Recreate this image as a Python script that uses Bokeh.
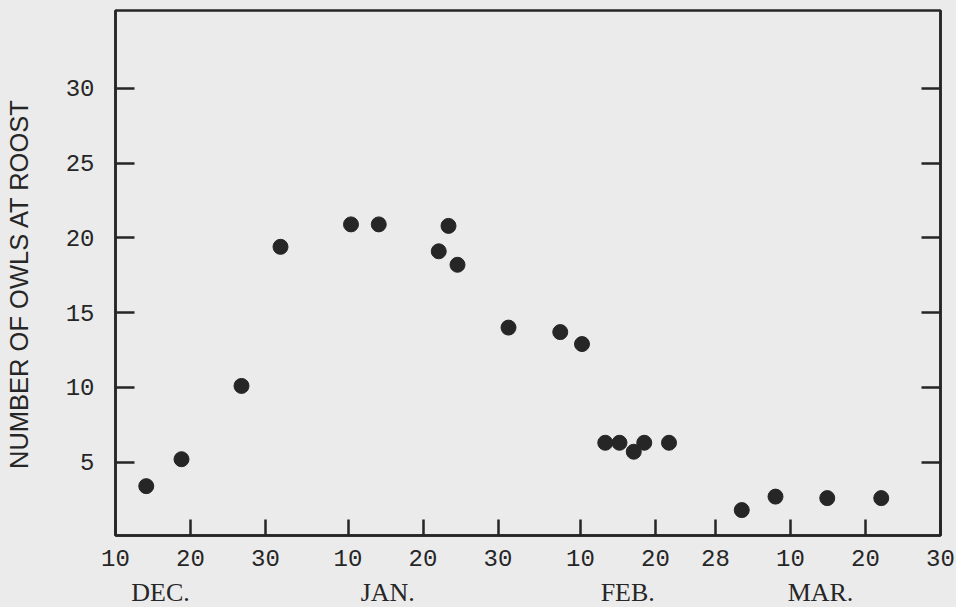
from bokeh.plotting import figure
from bokeh.models import LinearAxis, FixedTicker, Range1d
from bokeh.layouts import column
from bokeh.core.properties import value
from bokeh.embed import file_html
from bokeh.resources import INLINE

# Observation days, counted as days since 10 December
obs_day = [4.1, 8.8, 16.8, 22.0, 31.4, 35.1, 43.1, 44.4, 45.6, 52.4, 59.3, 62.2,
           65.3, 67.2, 69.1, 70.5, 73.8, 83.5, 88.0, 94.9, 102.1]
# Number of owls at roost
owls = [3.4, 5.2, 10.1, 19.4, 20.9, 20.9, 19.1, 20.8, 18.2, 14.0, 13.7, 12.9,
        6.3, 6.3, 5.7, 6.3, 6.3, 1.8, 2.7, 2.6, 2.6]

# x-axis ticks (days since 10 Dec) and their day-of-month labels
x_ticks = [0, 10, 20, 31, 41, 51, 62, 72, 80, 90, 100, 110]
x_tick_labels = ["10", "20", "30", "10", "20", "30", "10", "20", "28", "10", "20", "30"]
# month labels and their positions (days since 10 Dec)
month_pos = [6.0, 36.3, 68.3, 94.0]
month_names = ["DEC.", "JAN.", "FEB.", "MAR."]
y_ticks = [5, 10, 15, 20, 25, 30]

BG = "#ebebeb"
INK = "#262626"
NBSP = "\u00a0"

p = figure(width=956, height=577, output_backend="svg", toolbar_location=None,
           x_range=Range1d(0, 110), y_range=Range1d(0.1, 35.2),
           min_border_left=115, min_border_right=16, min_border_top=10,
           min_border_bottom=42)
p.background_fill_color = BG
p.border_fill_color = BG
p.grid.visible = False
p.outline_line_color = INK
p.outline_line_width = 2.5

p.scatter(obs_day, owls, size=15, color=INK)

# bottom axis (day of month)
xa = p.xaxis[0]
xa.ticker = FixedTicker(ticks=x_ticks)
xa.major_label_overrides = {t: l for t, l in zip(x_ticks, x_tick_labels)}
xa.axis_line_color = INK
xa.axis_line_width = 2.5
xa.major_tick_line_color = INK
xa.major_tick_line_width = 2.5
xa.major_tick_in = 16
xa.major_tick_out = 0
xa.minor_tick_line_color = None
xa.major_label_standoff = 14
xa.major_label_text_font = "Liberation Mono"
xa.major_label_text_font_size = "24px"
xa.major_label_text_color = INK

# left axis
ya = p.yaxis[0]
ya.ticker = FixedTicker(ticks=y_ticks)
ya.axis_line_color = INK
ya.axis_line_width = 2.5
ya.major_tick_line_color = INK
ya.major_tick_line_width = 2.5
ya.major_tick_in = 19
ya.major_tick_out = 0
ya.minor_tick_line_color = None
ya.major_label_standoff = 21
ya.major_label_text_font = "Liberation Mono"
ya.major_label_text_font_size = "24px"
ya.major_label_text_color = INK
ya.axis_label = "NUMBER OF OWLS AT ROOST" + NBSP * 3
ya.axis_label_text_font = "Liberation Sans"
ya.axis_label_text_font_size = "25.5px"
ya.axis_label_text_font_style = "normal"
ya.axis_label_text_color = INK
ya.axis_label_standoff = 30

# right axis (ticks only)
ra = LinearAxis(ticker=FixedTicker(ticks=y_ticks),
                major_label_overrides={t: "" for t in y_ticks})
ra.axis_line_color = INK
ra.axis_line_width = 2.5
ra.major_tick_line_color = INK
ra.major_tick_line_width = 2.5
ra.major_tick_in = 19
ra.major_tick_out = 0
ra.minor_tick_line_color = None
ra.major_label_standoff = 0
ra.major_label_text_font_size = "1px"
p.add_layout(ra, "right")

# strip under the chart holding the month names
m = figure(width=956, height=30, output_backend="svg", toolbar_location=None,
           x_range=p.x_range, y_range=Range1d(0, 30),
           x_axis_location=None, y_axis_location=None,
           min_border_left=115, min_border_right=16, min_border_top=0,
           min_border_bottom=0)
m.background_fill_color = BG
m.border_fill_color = BG
m.grid.visible = False
m.outline_line_color = None
m.text(x=month_pos, y=[15] * len(month_names), text=month_names, text_align="center",
       text_baseline="middle", text_font=value("Liberation Serif"),
       text_font_size="26px", text_color=INK)

layout = column(p, m, spacing=0, styles={"background-color": BG})
open("out.html", "w").write(file_html(layout, INLINE))
